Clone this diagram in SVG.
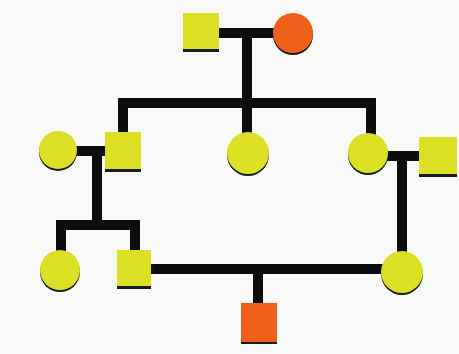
<svg xmlns="http://www.w3.org/2000/svg" width="459" height="354" viewBox="0 0 459 354">
<style>
.bg{fill:#f8f8f6}
.ln{stroke:#0d0d0d;stroke-width:10;fill:none;stroke-linecap:square}
.y{fill:#dbe024}
.o{fill:#ef5f1a}
.sh{fill:#1a1a1a}
</style>
<rect class="bg" x="0" y="0" width="459" height="354"/>
<g id="connectors">
<path class="ln" d="M219 33H274"/>
<path class="ln" d="M247 33V103"/>
<path class="ln" d="M123 103H371"/>
<path class="ln" d="M123 103V132"/>
<path class="ln" d="M247 103V133"/>
<path class="ln" d="M371 103V134"/>
<path class="ln" d="M77 151H106"/>
<path class="ln" d="M97 151V225"/>
<path class="ln" d="M61 225H135"/>
<path class="ln" d="M61 225V251"/>
<path class="ln" d="M135 225V250"/>
<path class="ln" d="M388 156H419"/>
<path class="ln" d="M402 156V252"/>
<path class="ln" d="M151 269H382"/>
<path class="ln" d="M258 269V303"/>
</g>
<g id="gf">
<rect class="sh" x="183" y="16" width="36" height="36"/>
<rect class="y" x="183" y="13" width="36" height="36"/>
</g>
<g id="gm">
<circle class="sh" cx="293" cy="35" r="20"/>
<circle class="o" cx="293" cy="33" r="20"/>
</g>
<g id="p1w">
<circle class="sh" cx="58" cy="152" r="19"/>
<circle class="y" cx="58" cy="150" r="19"/>
</g>
<g id="p1">
<rect class="sh" x="105" y="134" width="36" height="38"/>
<rect class="y" x="105" y="132" width="36" height="37"/>
</g>
<g id="p2">
<circle class="sh" cx="248" cy="155" r="21"/>
<circle class="y" cx="248" cy="153" r="21"/>
</g>
<g id="p3">
<circle class="sh" cx="368" cy="155" r="20"/>
<circle class="y" cx="368" cy="153" r="20"/>
</g>
<g id="p3h">
<rect class="sh" x="419" y="139" width="38" height="38"/>
<rect class="y" x="419" y="137" width="38" height="37"/>
</g>
<g id="c1">
<circle class="sh" cx="60" cy="272" r="20"/>
<circle class="y" cx="60" cy="270" r="20"/>
</g>
<g id="c2">
<rect class="sh" x="117" y="252" width="34" height="37"/>
<rect class="y" x="117" y="250" width="34" height="36"/>
</g>
<g id="c3">
<circle class="sh" cx="402" cy="274" r="21"/>
<circle class="y" cx="402" cy="272" r="21"/>
</g>
<g id="gc">
<rect class="sh" x="241" y="305" width="36" height="39"/>
<rect class="o" x="241" y="303" width="36" height="39"/>
</g>
</svg>
